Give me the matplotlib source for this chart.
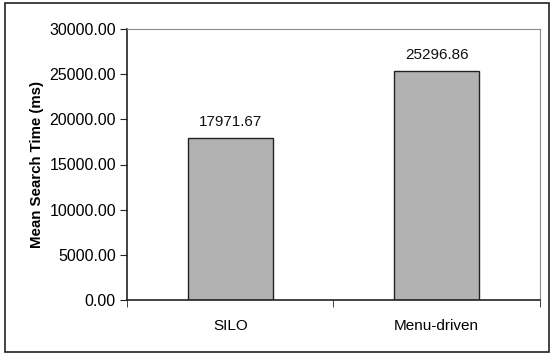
import matplotlib.pyplot as plt
from matplotlib.patches import Rectangle

categories = ['SILO', 'Menu-driven']
mean_times = [17971.67, 25296.86]
y_ticks = [0, 5000, 10000, 15000, 20000, 25000, 30000]

plt.rcParams['font.family'] = ['Liberation Sans', 'DejaVu Sans']

fig = plt.figure(figsize=(5.59, 3.59), dpi=100)
ax = fig.add_axes([127 / 559, 1 - 300 / 359, 413 / 559, 271 / 359])

# рамка вокруг всей диаграммы
fig.patches.append(Rectangle((5 / 559, 1 - 352 / 359), 544 / 559, 349 / 359,
                             transform=fig.transFigure, fill=False,
                             edgecolor='#222222', linewidth=1.2))

x = range(len(categories))
bars = ax.bar(x, mean_times, width=0.41, color='#b2b2b2',
              edgecolor='#222222', linewidth=1)

for b, v in zip(bars, mean_times):
    ax.text(b.get_x() + b.get_width() / 2, v + 1000, f'{v:.2f}',
            ha='center', va='bottom', fontsize=11, color='#111111')

ax.set_xlim(-0.5, len(categories) - 0.5)
ax.set_ylim(0, 30000)
ax.set_yticks(y_ticks)
ax.set_yticklabels([f'{t:.2f}' for t in y_ticks], fontsize=11.5)
ax.set_xticks([0, 1])
ax.set_xticklabels(categories, fontsize=11)
ax.set_xticks([-0.5, 0.5, 1.5], minor=True)
ax.tick_params(axis='x', which='major', length=0, pad=14)
ax.tick_params(axis='x', which='minor', length=5, direction='out', color='#222222')
ax.tick_params(axis='y', length=5, direction='out', color='#222222', pad=3)

ax.set_ylabel('Mean Search Time (ms)', fontsize=10.8, fontweight='bold', labelpad=4)

for s in ['top', 'right']:
    ax.spines[s].set_color('#8c8c8c')
for s in ['left', 'bottom']:
    ax.spines[s].set_color('#222222')
    ax.spines[s].set_linewidth(1.2)

fig.savefig('out.png', dpi=100)
